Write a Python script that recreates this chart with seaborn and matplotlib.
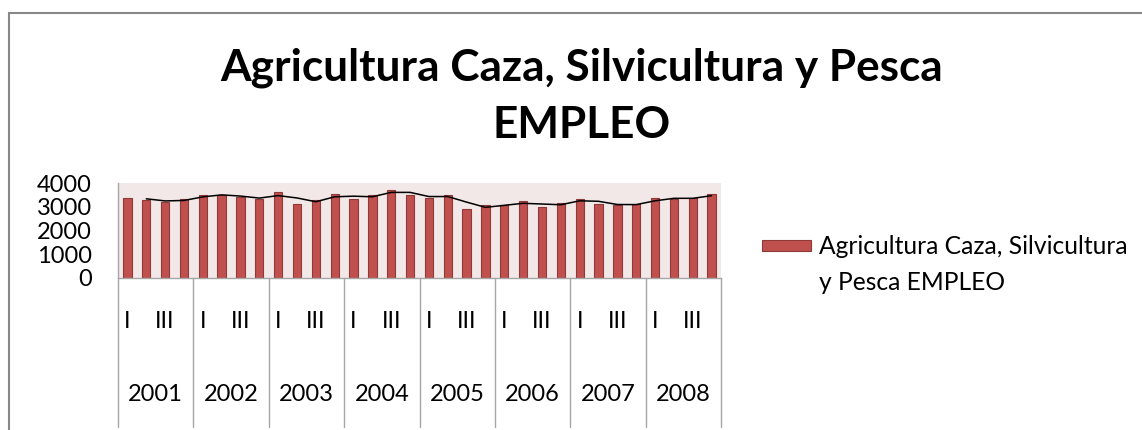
import numpy as np
import pandas as pd
import matplotlib.pyplot as plt
from matplotlib.patches import Rectangle
import seaborn as sns


# datos trimestrales 2001-2008
years = ['2001', '2002', '2003', '2004', '2005', '2006', '2007', '2008']
quarters = ['I', 'II', 'III', 'IV']
empleo = [3380, 3290, 3200, 3330,
          3500, 3500, 3400, 3330,
          3610, 3130, 3290, 3550,
          3340, 3500, 3710, 3500,
          3360, 3500, 2890, 3060,
          3060, 3230, 3000, 3170,
          3330, 3130, 3060, 3120,
          3380, 3330, 3380, 3550]
y_ticks = [0, 1000, 2000, 3000, 4000]
serie = 'Agricultura Caza, Silvicultura y Pesca EMPLEO'

periodos = [f'{y} {q}' for y in years for q in quarters]
df = pd.DataFrame({'periodo': periodos, 'empleo': empleo})
# media movil de 2 periodos (la linea negra)
df['media'] = df['empleo'].rolling(2).mean()

sns.set_style('white')
plt.rcParams['font.family'] = ['Lato', 'DejaVu Sans']
plt.rcParams['text.color'] = 'black'

bar_color = '#C0504D'
edge_color = '#8E3A38'
grid_gray = '#A6A6A6'

fig = plt.figure(figsize=(11.42, 4.30), dpi=100)
ax = fig.add_axes([118 / 1142, 1 - 278 / 430, 603 / 1142, 95 / 430])

sns.barplot(data=df, x='periodo', y='empleo', color=bar_color, saturation=1,
            width=0.44, edgecolor=edge_color, linewidth=0.8, ax=ax)
sns.lineplot(x=np.arange(len(df)), y=df['media'], color='black', lw=1.1, ax=ax)
if ax.get_legend() is not None:
    ax.get_legend().remove()

ax.set_xlim(-0.5, len(df) - 0.5)
ax.set_ylim(0, 4000)
ax.set_yticks(y_ticks)
ax.set_yticklabels([str(v) for v in y_ticks], fontsize=17, color='black')
ax.tick_params(axis='y', length=0, pad=19)
ax.set_xticks([])
ax.set_xlabel('')
ax.set_ylabel('')
ax.set_facecolor('#F2E8E8')
for s in ['top', 'right']:
    ax.spines[s].set_visible(False)
for s in ['left', 'bottom']:
    ax.spines[s].set_color(grid_gray)
    ax.spines[s].set_linewidth(1)

# eje de categorias en dos niveles
trans = ax.get_xaxis_transform()
for k in range(len(years) + 1):
    ax.plot([4 * k - 0.5] * 2, [0, -1.57], transform=trans, color=grid_gray,
            lw=1, clip_on=False)
for i, y in enumerate(years):
    ax.text(4 * i, -0.46, 'I', transform=trans, ha='center', va='center', fontsize=17)
    ax.text(4 * i + 2, -0.46, 'III', transform=trans, ha='center', va='center', fontsize=17)
    ax.text(4 * i + 1.5, -1.23, y, transform=trans, ha='center', va='center', fontsize=17)

fig.text(0.5096, 0.777, 'Agricultura Caza, Silvicultura y Pesca\nEMPLEO',
         ha='center', va='center', fontsize=31.8, fontweight='bold', linespacing=1.52)

# leyenda: el cuadro va junto a la primera linea del texto
bar_handle = ax.patches[0]
leg = fig.legend([bar_handle], ['Agricultura Caza, Silvicultura'],
                 loc='center left', bbox_to_anchor=(762 / 1142, 1 - 247 / 430),
                 frameon=False, fontsize=17.7, handlelength=2.0, handleheight=0.35,
                 handletextpad=0.3, borderpad=0, borderaxespad=0)
fig.canvas.draw()
tb = leg.get_texts()[0].get_window_extent()
fig.text(tb.x0 / 1142, 1 - 283 / 430, 'y Pesca EMPLEO', ha='left', va='center',
         fontsize=17.7)

# marco exterior del grafico
fig.add_artist(Rectangle((9 / 1142, -0.1), 1.2, 0.1 + (1 - 13 / 430), transform=fig.transFigure,
                         fill=False, edgecolor='#878787', lw=1.5, clip_on=False))

fig.savefig('out.png', dpi=100)
